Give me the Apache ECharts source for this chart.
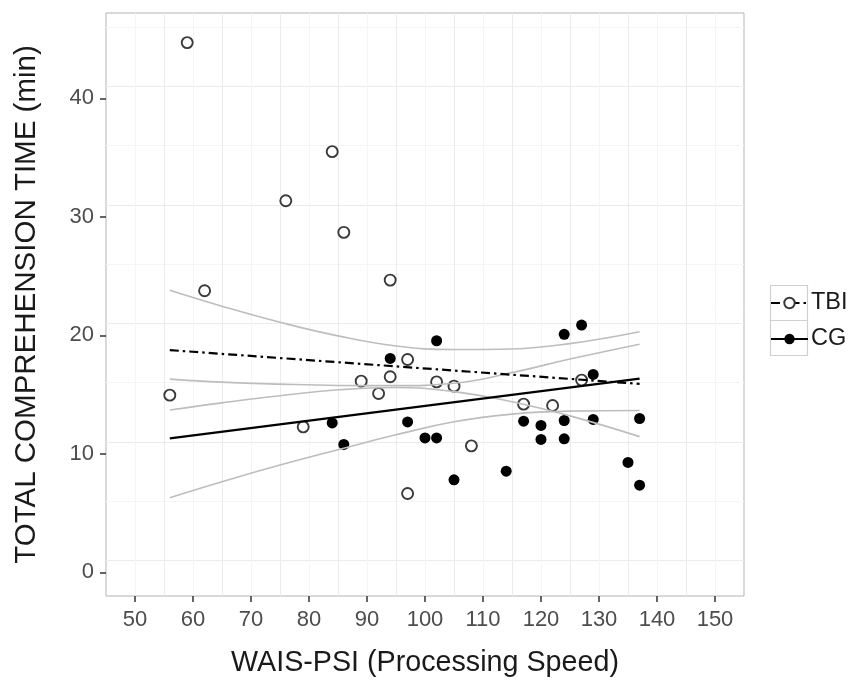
<!DOCTYPE html>
<html><head><meta charset="utf-8">
<script src="https://cdn.jsdelivr.net/npm/echarts@6/dist/echarts.min.js"></script>
<style>html,body{margin:0;padding:0;background:#fff}#c{width:849px;height:686px}</style>
</head><body><div id="c"></div>
<script>
// ---- data ----
const tbiX = [56, 59, 62, 76, 79, 84, 86, 89, 92, 94, 94, 97, 97, 102, 105, 108, 117, 122, 127];
const tbiY = [14.95, 44.7, 23.76, 31.36, 12.27, 35.5, 28.69, 16.13, 15.09, 24.66, 16.5, 17.96, 6.65, 16.07, 15.71, 10.67, 14.19, 14.08, 16.22];
const cgX = [84, 86, 94, 97, 100, 102, 102, 105, 114, 117, 120, 120, 124, 124, 124, 127, 129, 129, 135, 137, 137];
const cgY = [12.61, 10.79, 18.05, 12.69, 11.34, 19.54, 11.34, 7.8, 8.53, 12.75, 12.39, 11.21, 20.08, 12.81, 11.26, 20.86, 16.7, 12.9, 9.27, 12.98, 7.35];
const fitX = [56, 137];
const tbiFit = [18.75, 15.9];
const cgFit = [11.3, 16.35];
const bandX = [56, 65, 75, 85, 95, 105, 115, 125, 137];
const tbiUpper = [23.8, 22.45, 21.1, 19.95, 19.1, 18.8, 18.85, 19.3, 20.3];
const tbiLower = [13.7, 14.3, 14.9, 15.4, 15.6, 15.25, 14.4, 13.2, 11.45];
const cgUpper = [16.3, 16.05, 15.88, 15.77, 15.75, 15.95, 16.85, 18.0, 19.25];
const cgLower = [6.3, 7.65, 9.05, 10.35, 11.6, 12.7, 13.35, 13.6, 13.65];
const xTicks = [50, 60, 70, 80, 90, 100, 110, 120, 130, 140, 150];
const yTicks = [0, 10, 20, 30, 40];
const groups = ['TBI', 'CG'];
const xTitle = 'WAIS-PSI (Processing Speed)';
const yTitle = 'TOTAL COMPREHENSION TIME (min)';

const zip = (xs, ys) => xs.map((x, i) => [x, ys[i]]);
const FONT = '"Liberation Sans", Arial, sans-serif';
const MAJOR = '#ebebeb', MINOR = '#f5f5f5', NONE = 'rgba(0,0,0,0)';

const chart = echarts.init(document.getElementById('c'), null, {renderer: 'canvas'});

const bandSeries = (d) => ({
  type: 'line', data: d, xAxisIndex: 0, yAxisIndex: 0, symbol: 'none', smooth: 0.45,
  silent: true, z: 3, lineStyle: {color: '#bdbdbd', width: 1.6}
});

chart.setOption({
  animation: false,
  backgroundColor: '#fff',
  textStyle: {fontFamily: FONT},
  grid: {left: 106, right: 105, top: 13, bottom: 90, show: true, borderColor: '#b3b3b3', borderWidth: 1, backgroundColor: '#fff', containLabel: false},
  xAxis: [
    {type: 'value', min: 45, max: 155, interval: 5,
     axisLine: {show: false, onZero: false}, axisTick: {show: false}, axisLabel: {show: false},
     splitLine: {show: true, showMinLine: false, showMaxLine: false, lineStyle: {color: [MINOR, MAJOR], width: 1}}},
    {type: 'value', min: 45, max: 155, position: 'bottom',
     axisLine: {show: false, onZero: false},
     axisTick: {show: true, customValues: xTicks, length: 6, lineStyle: {color: '#333', width: 1.5}},
     axisLabel: {customValues: xTicks, fontSize: 22, color: '#4d4d4d', margin: 13, fontFamily: FONT},
     splitLine: {show: false},
     name: xTitle, nameLocation: 'middle', nameGap: 53,
     nameTextStyle: {fontSize: 28.7, color: '#1a1a1a', fontFamily: FONT}}
  ],
  yAxis: [
    {type: 'value', min: -2, max: 47.2, interval: 1,
     axisLine: {show: false, onZero: false}, axisTick: {show: false}, axisLabel: {show: false},
     splitLine: {show: true, showMinLine: false, showMaxLine: false,
       lineStyle: {color: [NONE, NONE, MAJOR, NONE, NONE, NONE, NONE, MINOR, NONE, NONE], width: 1}}},
    {type: 'value', min: -2, max: 47.2, position: 'left',
     axisLine: {show: false, onZero: false},
     axisTick: {show: true, customValues: yTicks, length: 6, lineStyle: {color: '#333', width: 1.5}},
     axisLabel: {customValues: yTicks, fontSize: 22, color: '#4d4d4d', margin: 12, fontFamily: FONT},
     splitLine: {show: false},
     name: yTitle, nameLocation: 'middle', nameGap: 64, nameRotate: 90,
     nameTextStyle: {fontSize: 29.5, color: '#1a1a1a', fontFamily: FONT}}
  ],
  legend: {
    orient: 'vertical', left: 770, top: 291, padding: 0, itemGap: 12,
    itemWidth: 37, itemHeight: 13, itemGap: 12, data: groups,
    textStyle: {fontSize: 23.5, color: '#1a1a1a', fontFamily: FONT, padding: [0, 0, 0, -2]}
  },
  graphic: [
    {type: 'rect', shape: {x: 770.5, y: 285.5, width: 37, height: 35}, style: {fill: 'none', stroke: '#cfcfcf', lineWidth: 1.2}, silent: true},
    {type: 'rect', shape: {x: 770.5, y: 320.5, width: 37, height: 35}, style: {fill: 'none', stroke: '#cfcfcf', lineWidth: 1.2}, silent: true}
  ],
  series: [
    {name: 'TBI points', type: 'scatter', data: zip(tbiX, tbiY), xAxisIndex: 0, yAxisIndex: 0,
     symbol: 'circle', symbolSize: 11, z: 2,
     itemStyle: {color: '#fff', borderColor: '#3a3a3a', borderWidth: 1.9, opacity: 1}},
    {name: 'CG points', type: 'scatter', data: zip(cgX, cgY), xAxisIndex: 0, yAxisIndex: 0,
     symbol: 'circle', symbolSize: 11, z: 2,
     itemStyle: {color: '#000', borderColor: '#000', borderWidth: 0, opacity: 1}},
    bandSeries(zip(bandX, tbiUpper)),
    bandSeries(zip(bandX, tbiLower)),
    bandSeries(zip(bandX, cgUpper)),
    bandSeries(zip(bandX, cgLower)),
    {name: 'TBI', type: 'line', data: zip(fitX, tbiFit), xAxisIndex: 0, yAxisIndex: 0,
     symbol: 'circle', symbolSize: 11, showSymbol: false, z: 4,
     itemStyle: {color: '#fff', borderColor: '#3a3a3a', borderWidth: 1.8, opacity: 1},
     lineStyle: {color: '#000', width: 2.2, type: [9, 4, 2.5, 4]}},
    {name: 'CG', type: 'line', data: zip(fitX, cgFit), xAxisIndex: 0, yAxisIndex: 0,
     symbol: 'circle', symbolSize: 11, showSymbol: false, z: 4,
     itemStyle: {color: '#000', borderColor: '#000', borderWidth: 0, opacity: 1},
     lineStyle: {color: '#000', width: 2.2, type: 'solid'}}
  ]
});
</script></body></html>
